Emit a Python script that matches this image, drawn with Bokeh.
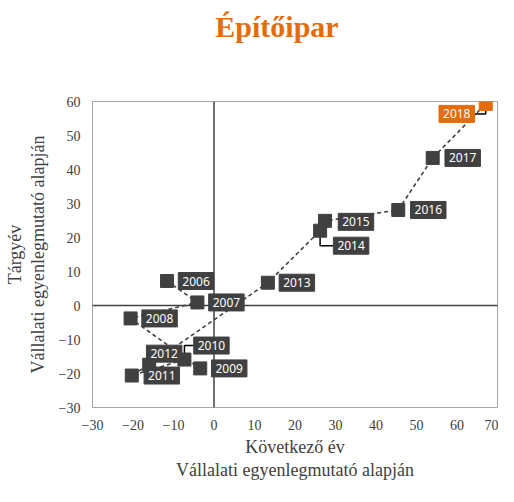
from bokeh.plotting import figure
from bokeh.layouts import column
from bokeh.models import ColumnDataSource, Label, Span, FixedTicker, Range1d, Div
from bokeh.embed import file_html
from bokeh.resources import INLINE

# ---- data ----
years = ["2006", "2007", "2008", "2009", "2010", "2011", "2012",
         "2013", "2014", "2015", "2016", "2017", "2018"]
x_next = [-11.6, -4.1, -20.6, -3.4, -7.3, -20.3, -16.0,
          13.3, 26.2, 27.4, 45.5, 54.0, 67.1]
y_curr = [7.2, 0.9, -3.8, -18.5, -15.9, -20.6, -17.4,
          6.7, 22.0, 24.9, 28.1, 43.4, 59.3]
x_ticks = list(range(-30, 71, 10))
y_ticks = list(range(-30, 61, 10))
title_text = "Építőipar"

# ---- label placement (screen px) ----
label_dx = [29, 29, 29, 29, 27, 30, 15, 29, 31, 31, 30, 30, -29]
label_dy = [0, 0, 0, 0, 14, 0, 11, 0, -15, -1, 0, 0, -10]
leader = [False, False, False, False, True, False, False,
          False, True, False, False, False, True]

DARK = "#404040"
ORANGE = "#E46C0A"
colors = [ORANGE if y == "2018" else DARK for y in years]

W, H_TOTAL, TITLE_H = 498, 486, 54
H = H_TOTAL - TITLE_H
BL, BR, BT, BB = 92, 1, 101 - TITLE_H, 79
X0, X1, Y0, Y1 = -30, 70, -30, 60

title = Div(text=title_text, width=W, height=TITLE_H, margin=0,
            styles={"font-family": "Liberation Serif", "font-size": "30px",
                    "font-weight": "bold", "color": ORANGE,
                    "text-align": "center", "line-height": f"{TITLE_H}px",
                    "padding-left": "56px", "box-sizing": "border-box"})

p = figure(width=W, height=H, x_range=Range1d(X0, X1), y_range=Range1d(Y0, Y1),
           output_backend="svg", toolbar_location=None, margin=0,
           min_border_left=BL, min_border_right=BR,
           min_border_top=BT, min_border_bottom=BB)

p.grid.visible = False
p.outline_line_color = "#a6a6a6"
p.outline_line_width = 1

for ax in (p.xaxis, p.yaxis):
    ax.axis_line_color = None
    ax.major_tick_line_color = None
    ax.minor_tick_line_color = None
    ax.major_tick_out = 0
    ax.major_tick_in = 0
    ax.major_label_text_font = "Liberation Serif"
    ax.major_label_text_font_size = "14px"
    ax.major_label_text_color = DARK
    ax.axis_label_text_font = "Liberation Serif"
    ax.axis_label_text_font_size = "18px"
    ax.axis_label_text_font_style = "normal"
    ax.axis_label_text_color = DARK
    ax.axis_label_text_line_height = 1.15

p.xaxis.ticker = FixedTicker(ticks=x_ticks)
p.yaxis.ticker = FixedTicker(ticks=y_ticks)
p.xaxis.major_label_standoff = 12
p.yaxis.major_label_standoff = 12
p.xaxis.axis_label = "Következő év\nVállalati egyenlegmutató alapján"
p.yaxis.axis_label = "Tárgyév\nVállalati egyenlegmutató alapján"
p.xaxis.axis_label_standoff = 4
p.yaxis.axis_label_standoff = 8

p.add_layout(Span(location=0, dimension="height", line_color=DARK, line_width=1.5, level="underlay"))
p.add_layout(Span(location=0, dimension="width", line_color=DARK, line_width=1.5, level="underlay"))

# connecting dashed line
p.line(x_next, y_curr, line_color=DARK, line_width=1.6, line_dash="4 3")

# leader lines
fw = W - BL - BR
fh = H - BT - BB
sx = fw / (X1 - X0)
sy = fh / (Y1 - Y0)
half_w = 18
for xv, yv, dx, dy, lead in zip(x_next, y_curr, label_dx, label_dy, leader):
    if not lead:
        continue
    ly = yv + dy / sy
    edge = xv + (dx - half_w * (1 if dx > 0 else -1)) / sx
    p.line([xv, xv, edge], [yv, ly, ly], line_color="black", line_width=1.5)

src = ColumnDataSource(dict(x=x_next, y=y_curr, color=colors))
p.scatter("x", "y", source=src, marker="square", size=13,
          fill_color="color", line_color="color")

for xv, yv, yr, c, dx, dy in zip(x_next, y_curr, years, colors, label_dx, label_dy):
    p.add_layout(Label(x=xv, y=yv, text=yr, x_offset=dx, y_offset=dy,
                       text_align="center", text_baseline="middle",
                       text_font="Noto Sans", text_font_size="12px",
                       text_color="white",
                       background_fill_color=c,
                       border_line_color=c,
                       padding=4))

layout = column(title, p, spacing=0)
open("out.html", "w").write(file_html(layout, INLINE))
